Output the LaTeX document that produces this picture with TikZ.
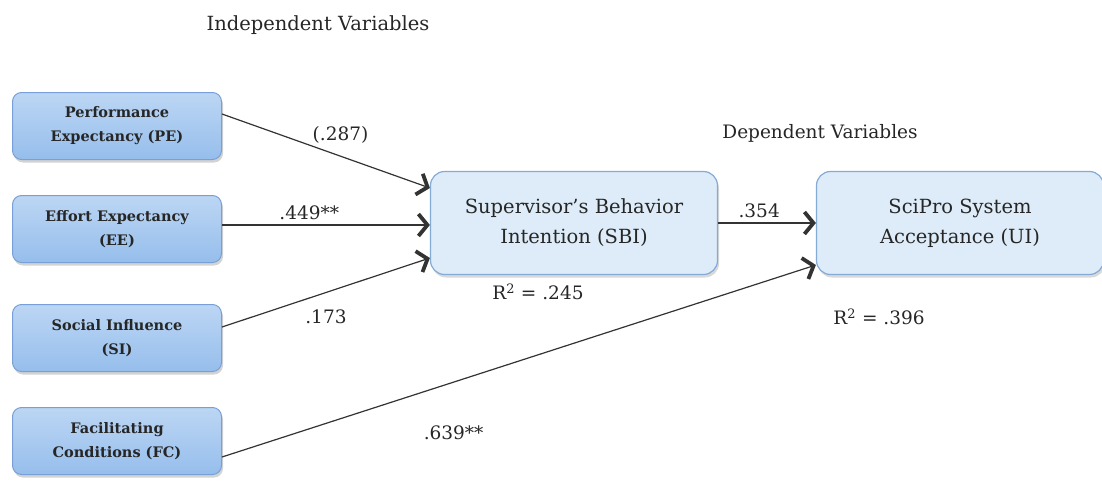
\documentclass[tikz,border=0pt]{standalone}
\usepackage{fontspec}
\setmainfont{DejaVu Serif}
\usetikzlibrary{arrows.meta,shadows}
\definecolor{ivtop}{RGB}{188,214,244}
\definecolor{ivbot}{RGB}{150,190,236}
\definecolor{ivline}{RGB}{120,160,214}
\definecolor{dvfill}{RGB}{221,236,248}
\definecolor{dvline}{RGB}{132,170,214}

\begin{document}
\begin{tikzpicture}[x=1pt,y=-1pt,
	ivbox/.style={draw=ivline, line width=1pt, rounded corners=9pt,
		minimum width=209pt, minimum height=67pt, align=center,
		top color=ivtop, bottom color=ivbot,
		drop shadow={shadow xshift=1.5pt,shadow yshift=-3pt,opacity=0.35},
		font=\bfseries\fontsize{14.5}{24}\selectfont, text=black!85},
	dvbox/.style={draw=dvline, line width=1.2pt, rounded corners=14pt,
		minimum width=287pt, minimum height=103pt, align=center,
		fill=dvfill, drop shadow={shadow xshift=1.5pt,shadow yshift=-3pt,opacity=0.3},
		font=\fontsize{19.5}{30}\selectfont, text=black!85},
	lbl/.style={font=\fontsize{18.5}{22}\selectfont, text=black!85},
	link/.style={draw=black!80, line width=1.2pt,
		-{Straight Barb[length=9pt,width=22pt,line width=3.8pt]}}]
	\useasboundingbox (0,0) rectangle (1102,487);
	\node[lbl, font=\fontsize{19.5}{22}\selectfont] (iv) at (318,25) {Independent Variables};
	\node[lbl] (dv) at (820,133) {Dependent Variables};
	%
	\node[ivbox] (PE) at (117,126) {Performance\\Expectancy (PE)};
	\node[ivbox] (EE) at (117,229) {Effort Expectancy\\(EE)};
	\node[ivbox] (SI) at (117,338) {Social Influence\\(SI)};
	\node[ivbox] (FC) at (117,441) {Facilitating\\Conditions (FC)};
	\node[dvbox] (SBI) at (574,223) {Supervisor's Behavior\\Intention (SBI)};
	\node[dvbox] (UI) at (960,223) {SciPro System\\Acceptance (UI)};
	%
	\node[lbl] (r1) at (538,292) {R\textsuperscript{2} = .245};
	\node[lbl] (r2) at (879,317) {R\textsuperscript{2} = .396};
	%
	\path[every edge/.append style={link}]
		([yshift=12pt]PE.east) edge node[lbl, pos=0.57, above=9pt]{(.287)} ([yshift=35pt]SBI.west)
		([yshift=4pt]EE.east) edge node[lbl, pos=0.42, above=1pt]{.449**} ([yshift=-2pt]SBI.west)
		([yshift=11pt]SI.east) edge node[lbl, pos=0.5, below=13pt]{.173} ([yshift=-35pt]SBI.west)
		([yshift=-16pt]FC.east) edge node[lbl, pos=0.39, below=40pt]{.639**} ([yshift=-42pt]UI.west)
		(SBI.east) edge node[lbl, pos=0.42, above=1pt]{.354} (UI.west);
\end{tikzpicture}
\end{document}
